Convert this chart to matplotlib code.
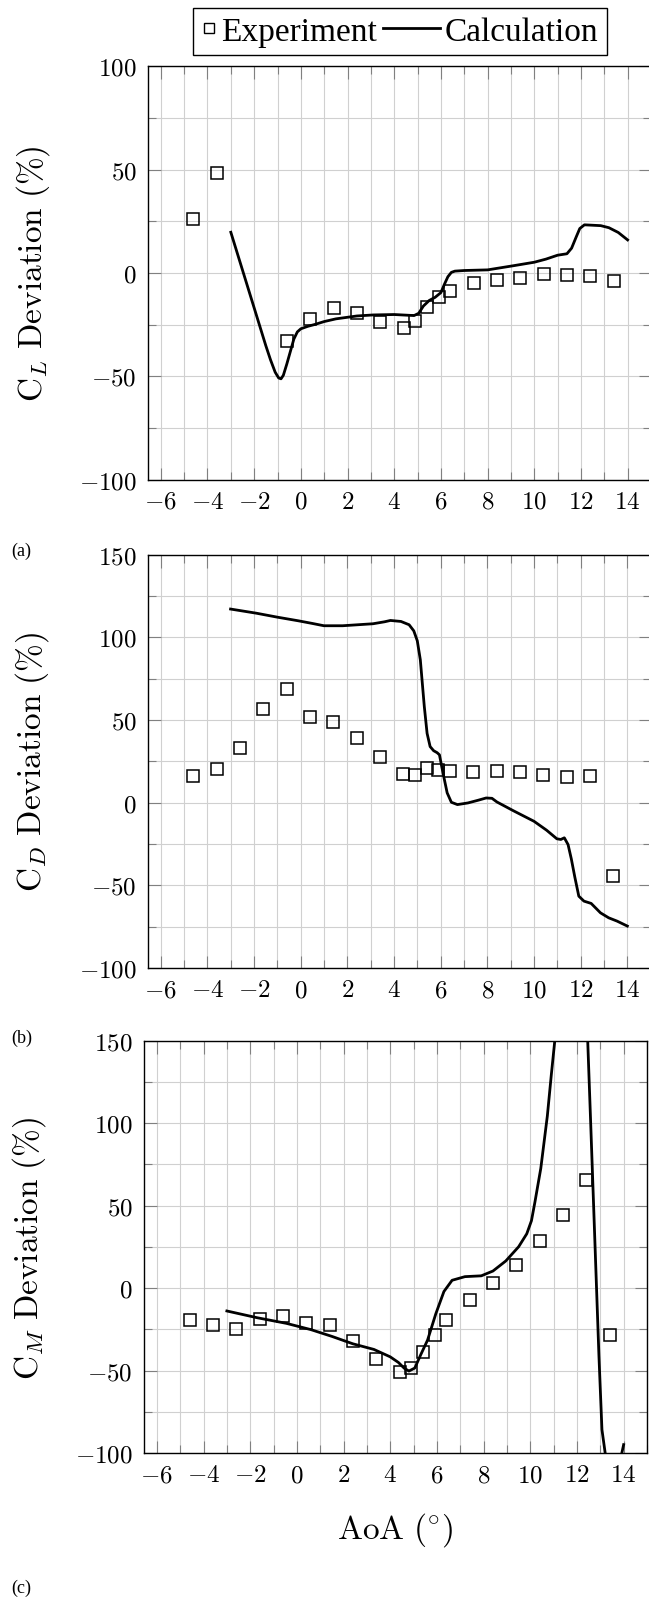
"""Three stacked panels: CL / CD / CM deviation vs AoA, experiment vs calculation."""
import numpy as np
import matplotlib
matplotlib.use('Agg')
import matplotlib.pyplot as plt
from matplotlib.ticker import MultipleLocator, FuncFormatter
from matplotlib.legend_handler import HandlerLine2D
from matplotlib.lines import Line2D

plt.rcParams.update({
    'font.family': ['Liberation Serif', 'DejaVu Serif'],
    'mathtext.fontset': 'cm',
})

# experiment (squares)
aoa_exp = [-4.6, -3.6, -2.6, -1.6, -0.6, 0.4, 1.4, 2.4, 3.4, 4.4, 4.9, 5.4, 5.9,
           6.4, 7.4, 8.4, 9.4, 10.4, 11.4, 12.4, 13.4]
aoa_exp_cl = [-4.6, -3.6, -0.6, 0.4, 1.4, 2.4, 3.4, 4.4, 4.9, 5.4, 5.9,
              6.4, 7.4, 8.4, 9.4, 10.4, 11.4, 12.4, 13.4]
cl_exp = [26.0, 48.2, -32.7, -22.5, -16.7, -19.4, -23.9, -26.7, -23.2, -16.5, -11.4,
          -8.5, -5.0, -3.5, -2.5, -0.7, -1.0, -1.3, -3.7]
cd_exp = [16.4, 20.5, 33.0, 56.9, 68.8, 51.9, 48.9, 39.0, 27.5, 17.4, 16.8, 21.1, 19.7,
          19.1, 18.5, 19.3, 18.9, 16.8, 15.8, 16.4, -44.4]
cm_exp = [-19.0, -22.6, -24.7, -18.6, -17.0, -21.3, -22.4, -31.9, -42.8, -50.5, -48.6,
          -38.9, -28.1, -19.0, -7.0, 2.9, 13.8, 28.7, 44.6, 65.8, -28.5]

# calculation (line)
cl_calc_aoa = [-3.0, -2.5, -2.0, -1.5, -1.3, -1.1, -0.95, -0.85, -0.75, -0.6, -0.45, -0.3,
               -0.15, 0.0, 0.3, 0.6, 1.0, 1.5, 2.4, 3.1, 4.0, 4.85, 5.05, 5.25, 5.5, 5.75,
               6.0, 6.15, 6.3, 6.45, 6.6, 7.0, 8.0, 9.1, 10.0, 10.5, 11.0, 11.4, 11.6,
               11.8, 11.95, 12.15, 12.5, 12.85, 13.2, 13.6, 14.0]
cl_calc = [19.7, 1.4, -16.9, -35.2, -42.0, -48.0, -50.8, -51.2, -49.5, -44.0, -38.0, -32.0,
           -28.5, -27.0, -25.8, -24.9, -23.5, -22.2, -20.8, -20.3, -20.1, -20.6, -19.5,
           -16.0, -13.3, -11.8, -9.5, -5.5, -1.8, 0.3, 0.9, 1.2, 1.5, 3.5, 5.2, 6.7, 8.6,
           9.3, 12.0, 17.5, 21.5, 23.3, 23.1, 22.9, 21.9, 19.6, 16.0]

cd_calc_aoa = [-3.0, -1.9, -1.0, -0.1, 0.5, 1.0, 1.8, 3.1, 3.6, 3.85, 4.3, 4.65, 4.85, 5.0,
               5.13, 5.3, 5.42, 5.55, 5.7, 5.85, 5.95, 6.1, 6.28, 6.46, 6.72, 7.17, 7.6,
               7.95, 8.2, 8.41, 9.1, 10.0, 10.54, 10.98, 11.15, 11.3, 11.46, 11.6, 11.75,
               11.92, 12.14, 12.45, 12.85, 13.2, 13.56, 14.0]
cd_calc = [117.2, 114.7, 112.3, 110.1, 108.5, 107.1, 107.1, 108.3, 109.5, 110.3, 109.7,
           107.7, 104.0, 98.0, 86.5, 58.3, 42.0, 34.0, 31.5, 30.3, 29.0, 18.1, 6.0, 0.3,
           -1.1, -0.1, 1.5, 2.9, 2.7, 0.5, -4.7, -11.2, -16.6, -21.8, -22.2, -21.2, -25.3,
           -34.0, -45.0, -56.5, -59.5, -60.9, -66.6, -69.6, -71.6, -74.6]

cm_calc_aoa = [-3.0, -1.7, -0.45, 0.6, 1.5, 2.4, 3.3, 4.0, 4.35, 4.6, 4.8, 5.05, 5.3, 5.6,
               5.95, 6.3, 6.65, 7.2, 7.9, 8.4, 8.95, 9.5, 9.85, 10.05, 10.2, 10.45, 10.73,
               10.9, 11.05, 11.2, 12.35, 12.46, 12.6, 12.77, 12.94, 13.07, 13.21, 13.35,
               13.75, 13.92, 14.0]
cm_calc = [-13.8, -17.9, -21.3, -25.1, -29.2, -33.7, -37.1, -41.6, -45.0, -48.5, -50.2,
           -48.4, -40.5, -31.4, -15.6, -2.0, 4.8, 7.0, 7.5, 10.4, 16.5, 25.1, 33.0, 40.9,
           52.3, 72.6, 104.3, 129.2, 150.0, 185.0, 185.0, 150.0, 95.2, 27.4, -40.5, -85.7,
           -100.0, -125.0, -125.0, -100.0, -94.8]


class LongLineHandler(HandlerLine2D):
    # line handle that reaches further left than its (short) handle box
    def __init__(self, extra, **kw):
        super().__init__(**kw)
        self.extra = extra

    def get_xdata(self, legend, xdescent, ydescent, width, height, fontsize):
        xdata, xm = super().get_xdata(legend, xdescent, ydescent, width, height, fontsize)
        return np.array([xdata[0] - self.extra, xdata[-1]]), xm


fig = plt.figure(figsize=(6.49, 16.06), dpi=100)

panels = [
    ([0.2280, 0.7007, 0.7750, 0.2574], (-100, 100), r'$\mathrm{C}_{L}\ \mathrm{Deviation\ (\%)}$',
     aoa_exp_cl, cl_exp, cl_calc_aoa, cl_calc),
    ([0.2276, 0.3966, 0.7750, 0.2573], (-100, 150), r'$\mathrm{C}_{D}\ \mathrm{Deviation\ (\%)}$',
     aoa_exp, cd_exp, cd_calc_aoa, cd_calc),
    ([0.2219, 0.0945, 0.7750, 0.2569], (-100, 150), r'$\mathrm{C}_{M}\ \mathrm{Deviation\ (\%)}$',
     aoa_exp, cm_exp, cm_calc_aoa, cm_calc),
]

fmt = FuncFormatter(lambda v, p: r'$%d$' % round(v))
axes = []
for rect, ylim, ylabel, xe, ye, xc, yc in panels:
    ax = fig.add_axes(rect)
    ax.plot(xc, yc, color='black', lw=2.0, zorder=3)
    ax.plot(xe, ye, ls='none', marker='s', ms=8, mfc='none', mec='black', mew=1.1, zorder=4)
    ax.set_xlim(-6.55, 15)
    ax.set_ylim(*ylim)
    ax.xaxis.set_major_locator(MultipleLocator(2))
    ax.xaxis.set_minor_locator(MultipleLocator(1))
    ax.yaxis.set_major_locator(MultipleLocator(50))
    ax.yaxis.set_minor_locator(MultipleLocator(25))
    ax.xaxis.set_major_formatter(fmt)
    ax.yaxis.set_major_formatter(fmt)
    ax.grid(which='both', color='#d0d0d0', lw=0.8)
    ax.set_axisbelow(True)
    ax.tick_params(which='both', direction='in', top=True, right=True,
                   color='#808080', width=0.8, labelsize=18)
    ax.tick_params(which='major', length=9, pad=8)
    ax.tick_params(which='minor', length=6)
    for s in ax.spines.values():
        s.set_linewidth(1.0)
    ax.set_ylabel(ylabel, fontsize=24, va='center')
    ax.yaxis.set_label_coords(-0.229, 0.5)
    axes.append(ax)

axes[2].set_xlabel(r'$\mathrm{AoA\ (^{\circ})}$', fontsize=24, va='center')
axes[2].xaxis.set_label_coords(0.5, -0.1835)

h_exp = Line2D([], [], ls='none', marker='s', ms=7, mfc='none', mec='black', mew=1.0)
h_calc = Line2D([], [], color='black', lw=2.0)
leg = fig.legend([h_exp, h_calc], ['Experiment', 'Calculation'], loc='center',
                 bbox_to_anchor=(0.6159, 0.9798), ncol=2,
                 prop={'family': ['Liberation Serif', 'DejaVu Serif'], 'size': 24},
                 frameon=True, fancybox=False, edgecolor='black', framealpha=1,
                 handlelength=0.45, handletextpad=0.15, columnspacing=1.43, borderpad=0.25,
                 handler_map={h_calc: LongLineHandler(30)})
leg.get_frame().set_linewidth(1.0)

for lab, yy in [('(a)', 551.7), ('(b)', 1038.3), ('(c)', 1588)]:
    fig.text(21.7 / 649, 1 - yy / 1606, lab, fontsize=13, ha='center', va='center',
             family=['Liberation Serif', 'DejaVu Serif'])

fig.savefig('out.png', dpi=100)
